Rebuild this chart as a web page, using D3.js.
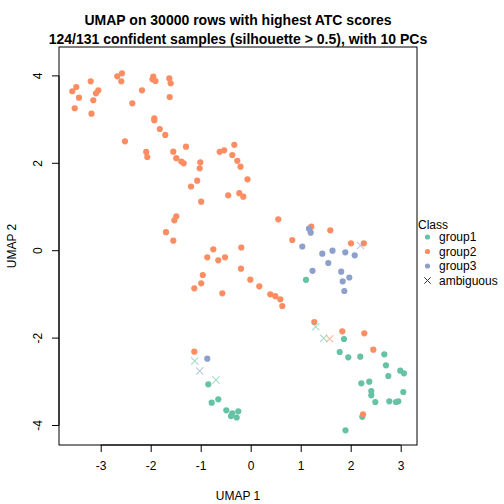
<!DOCTYPE html>
<html><head><meta charset="utf-8">
<script src="https://cdn.jsdelivr.net/npm/d3@7"></script>
<style>body{margin:0;background:#fff;} text{font-family:"Liberation Sans",Arial,sans-serif;}</style>
</head><body><svg id="c" width="504" height="504"></svg>
<script>
const titleLines = ["UMAP on 30000 rows with highest ATC scores", "124/131 confident samples (silhouette > 0.5), with 10 PCs"];
const xTicks = [-3,-2,-1,0,1,2,3];
const yTicks = [-4,-2,0,2,4];
const classes = ["group1","group2","group3"];
const classColors = ["#66C2A5","#FC8D62","#8DA0CB"];

const group1 = [[1.106,-0.666],[1.866,-2.021],[1.78,-2.318],[1.952,-2.439],[2.192,-2.426],[2.672,-2.371],[2.706,-2.622],[2.752,-2.867],[2.992,-2.746],[3.066,-2.805],[2.212,-3.034],[2.372,-2.998],[2.412,-3.21],[2.412,-3.309],[2.492,-3.462],[2.772,-3.446],[2.906,-3.462],[2.952,-3.446],[3.052,-3.233],[2.232,-3.801],[1.896,-4.11],[-0.848,-3.057],[-0.648,-3.4],[-0.78,-3.478],[-0.488,-3.652],[-0.368,-3.721],[-0.394,-3.783],[-0.28,-3.817],[-0.248,-3.675]];
const group2 = [[-3.568,3.648],[-3.488,3.746],[-3.434,3.501],[-3.52,3.259],[-3.2,3.876],[-3.148,3.442],[-3.094,3.602],[-3.048,3.67],[-3.184,3.135],[-2.668,3.991],[-2.574,4.059],[-2.588,3.876],[-2.174,3.67],[-2.368,3.373],[-1.948,3.982],[-1.964,3.922],[-1.904,3.883],[-1.628,3.941],[-1.6,3.831],[-1.62,3.517],[-1.928,3.03],[-1.928,2.984],[-1.818,2.785],[-1.708,2.648],[-2.514,2.503],[-2.09,2.259],[-2.068,2.144],[-1.548,2.265],[-1.294,2.38],[-1.488,2.117],[-1.388,2.041],[-1.34,2.0],[-1.008,2.023],[-1.02,1.886],[-1.07,1.602],[-1.194,1.469],[-0.99,1.121],[-0.62,2.263],[-0.53,2.297],[-0.328,2.423],[-0.368,2.19],[-0.268,2.057],[-0.204,1.922],[-0.064,1.634],[-0.45,1.268],[-0.228,1.316],[-0.148,1.236],[-1.488,0.787],[-1.528,0.696],[-1.694,0.423],[-1.548,0.229],[0.552,0.719],[1.212,0.549],[1.592,0.467],[0.832,0.245],[2.006,0.169],[2.262,0.169],[-0.188,0.073],[-0.748,0.032],[-0.868,-0.151],[-0.648,-0.22],[-0.514,-0.151],[-0.194,-0.412],[-0.958,-0.556],[-0.99,-0.746],[-1.128,-0.86],[-0.568,-0.975],[-0.008,-0.664],[0.172,-0.815],[0.392,-0.998],[0.492,-1.041],[0.592,-1.112],[0.632,-1.265],[1.272,-1.632],[1.832,-1.844],[2.272,-1.89],[2.452,-2.265],[-1.128,-2.311],[2.246,-3.744]];
const group3 = [[1.166,0.503],[1.2,0.412],[1.032,0.096],[1.432,-0.069],[1.636,0.0],[1.892,-0.037],[2.08,-0.105],[1.552,-0.281],[1.236,-0.46],[1.81,-0.481],[1.972,-0.613],[1.84,-0.7],[1.872,-0.922],[-0.868,-2.471]];
// ambiguous samples: [x, y, class index]
const ambiguous = [[2.196,0.119,2],[1.3,-1.739,0],[1.46,-2.005,0],[1.58,-2.014,1],[-1.12,-2.524,0],[-1.02,-2.753,2],[-0.694,-2.959,0]];

const svg = d3.select("#c");
const L=59, R=417, T=47, B=445;
const x = d3.scaleLinear().domain([-3.834,3.326]).range([L,R]);
const y = d3.scaleLinear().domain([-4.446,4.661]).range([B,T]);
const fmt = d => String(d);

svg.append("rect").attr("x",L).attr("y",T).attr("width",R-L).attr("height",B-T)
  .attr("fill","none").attr("stroke","#000").attr("stroke-width",1);

const xa = svg.append("g").attr("transform",`translate(0,${B})`)
  .call(d3.axisBottom(x).tickValues(xTicks).tickSize(7).tickPadding(9).tickFormat(fmt));
xa.select(".domain").attr("d",`M${x(xTicks[0])},0H${x(xTicks[xTicks.length-1])}`);
xa.selectAll("text").attr("font-size",12).attr("fill","#000").attr("font-family","Liberation Sans, Arial, sans-serif");

const ya = svg.append("g").attr("transform",`translate(${L},0)`)
  .call(d3.axisLeft(y).tickValues(yTicks).tickSize(7).tickFormat(fmt));
ya.select(".domain").attr("d",`M0,${y(yTicks[0])}V${y(yTicks[yTicks.length-1])}`);
ya.selectAll("text").attr("font-size",12).attr("fill","#000").attr("font-family","Liberation Sans, Arial, sans-serif")
  .attr("text-anchor","middle").attr("dy",0).attr("x",0)
  .attr("transform",d=>`translate(-21,${y(d)}) rotate(-90)`).attr("y",0);
ya.selectAll(".tick").attr("transform",null);
ya.selectAll(".tick line").attr("y1",d=>y(d)).attr("y2",d=>y(d));
ya.selectAll("text").attr("dominant-baseline","central");

const pts = svg.append("g");
[group1,group2,group3].forEach((g,i)=>{
  pts.selectAll(null).data(g).enter().append("circle")
    .attr("cx",d=>x(d[0])).attr("cy",d=>y(d[1])).attr("r",3.1).attr("fill",classColors[i]);
});
const s=3.6;
pts.selectAll(null).data(ambiguous).enter().append("path")
  .attr("d",d=>{const cx=x(d[0]),cy=y(d[1]);return `M${cx-s},${cy-s}L${cx+s},${cy+s}M${cx-s},${cy+s}L${cx+s},${cy-s}`;})
  .attr("stroke",d=>classColors[d[2]]).attr("stroke-opacity",0.6).attr("stroke-width",1.1).attr("fill","none");

svg.selectAll(".title").data(titleLines).enter().append("text")
  .attr("x",(L+R)/2).attr("y",(d,i)=>25+i*19).attr("text-anchor","middle")
  .attr("font-size",14).attr("font-weight","bold").text(d=>d);

svg.append("text").attr("x",(L+R)/2).attr("y",500).attr("text-anchor","middle").attr("font-size",12).text("UMAP 1");
svg.append("text").attr("transform",`translate(16,${(T+B)/2}) rotate(-90)`).attr("text-anchor","middle").attr("font-size",12).text("UMAP 2");

const lg = svg.append("g");
lg.append("text").attr("x",418).attr("y",229).attr("font-size",12).text("Class");
const items = classes.concat(["ambiguous"]);
items.forEach((c,i)=>{
  const cy = 237 + i*14.5;
  if(i<3){
    lg.append("circle").attr("cx",427.5).attr("cy",cy).attr("r",2.6).attr("fill",classColors[i]);
  } else {
    const a=3.2;
    lg.append("path").attr("d",`M${427.5-a},${cy-a}L${427.5+a},${cy+a}M${427.5-a},${cy+a}L${427.5+a},${cy-a}`)
      .attr("stroke","#333").attr("stroke-width",1);
  }
  lg.append("text").attr("x",439).attr("y",cy+4.3).attr("font-size",12).text(c);
});
</script></body></html>
